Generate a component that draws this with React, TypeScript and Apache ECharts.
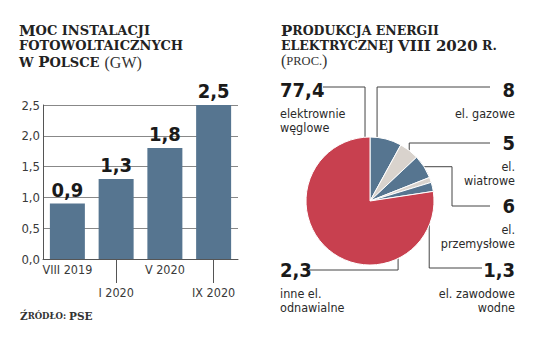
import React, { useEffect, useRef } from "react";
import * as echarts from "echarts";

// ---- data ----
const barCategories = ["VIII 2019", "I 2020", "V 2020", "IX 2020"];
const barValues = [0.9, 1.3, 1.8, 2.5];
const yTicks = { min: 0, max: 2.5, interval: 0.5 };

const pieNames = [
  "el. gazowe",
  "el. wiatrowe",
  "el. przemysłowe",
  "el. zawodowe wodne",
  "inne el. odnawialne",
  "elektrownie węglowe",
];
const pieValues = [8, 5, 6, 1.3, 2.3, 77.4];
const pieLabelLines = [
  ["el. gazowe"],
  ["el.", "wiatrowe"],
  ["el.", "przemysłowe"],
  ["el. zawodowe", "wodne"],
  ["inne el.", "odnawialne"],
  ["elektrownie", "węglowe"],
];

// ---- styles ----
const BLUE = "#567590";
const GRAY = "#d9d3cd";
const RED = "#c8404f";
const pieColors = [BLUE, GRAY, BLUE, GRAY, BLUE, RED];
const COND = "'Liberation Sans Narrow', 'DejaVu Sans Condensed', 'Roboto', sans-serif";
const SERIF = "'DejaVu Serif', serif";
const LIGHT = "'Liberation Serif', serif";

const PIE_C = [370, 201];
const PIE_R = 64;

// label layout (pixel layout constants)
const labelPos = [
  { side: "right", x: 515, top: 82, ly: 87, sx: 490, ex: null, t: 0.22, rf: 1 },
  { side: "right", x: 515, top: 135, ly: 143, sx: 490, ex: null, t: 0.5, rf: 1 },
  { side: "right", x: 515, top: 198, ly: 206, sx: 490, ex: 452, t: 0.5, rf: 1 },
  { side: "right", x: 515, top: 262, ly: 268, sx: 482, ex: null, t: 0.5, rf: 0.98 },
  { side: "left", x: 280, top: 262, ly: 270, sx: 309, ex: null, t: 0.5, rf: 0.45 },
  { side: "left", x: 280, top: 82, ly: 87, sx: 323, ex: null, t: 0.984, rf: 1 },
];

const fmt = (v: number) => String(v).replace(".", ",");

function sliceAngles() {
  const total = pieValues.reduce((a, b) => a + b, 0);
  let start = 90;
  return pieValues.map((v) => {
    const span = (v / total) * 360;
    const s = start;
    start -= span;
    return { start: s, end: s - span };
  });
}

const titleRich = (small: number) => ({
  c: { fontFamily: SERIF, fontWeight: "bold", fontSize: 15, color: "#222", lineHeight: 15 },
  s: { fontFamily: SERIF, fontWeight: "bold", fontSize: small, color: "#222", lineHeight: 15 },
  l: { fontFamily: LIGHT, fontWeight: "normal", fontSize: 16, color: "#333", lineHeight: 15 },
  ls: { fontFamily: LIGHT, fontWeight: "normal", fontSize: 12.5, color: "#333", lineHeight: 15 },
});

export default function App() {
  const ref = useRef<HTMLDivElement>(null);
  useEffect(() => {
    if (!ref.current) return;
    const chart = echarts.init(ref.current, null, { renderer: "svg" });
    const angles = sliceAngles();

    const option: any = {
      animation: false,
      backgroundColor: "#ffffff",
      title: [
        {
          left: 14,
          top: 18,
          text: "{c|M}{s|OC INSTALACJI}\n{s|FOTOWOLTAICZNYCH}\n{s|W }{c|P}{s|OLSCE} {l|(GW)}",
          textStyle: { rich: titleRich(13) },
        },
        {
          left: 276,
          top: 18,
          text: "{c|P}{s|RODUKCJA ENERGII}\n{s|ELEKTRYCZNEJ }{c|VIII 2020}{s| R.}\n{l|(}{ls|PROC.}{l|)}",
          textStyle: { rich: titleRich(12.5) },
        },
        {
          left: 15,
          top: 305,
          text: "{c|Ź}{s|RÓDŁO: }{c|PSE}",
          textStyle: {
            rich: {
              c: { fontFamily: SERIF, fontWeight: "bold", fontSize: 10.5, color: "#333" },
              s: { fontFamily: SERIF, fontWeight: "bold", fontSize: 8.5, color: "#333" },
            },
          },
        },
      ],
      grid: { left: 43, top: 105, width: 195, height: 154, containLabel: false },
      xAxis: {
        type: "category",
        data: barCategories,
        axisLine: { show: true, lineStyle: { color: "#555", width: 1 } },
        axisTick: {
          show: true,
          alignWithLabel: true,
          interval: (i: number) => i % 2 === 1,
          length: 24,
          lineStyle: { color: "#555" },
        },
        axisLabel: {
          interval: 0,
          margin: 3,
          formatter: (v: string, i: number) => (i % 2 === 1 ? "{g|}\n{a|" + v + "}" : "{a|" + v + "}"),
          rich: {
            g: { lineHeight: 23, fontSize: 1 },
            a: { fontFamily: COND, fontSize: 12.5, color: "#3a3a3a", lineHeight: 14 },
          },
        },
      },
      yAxis: {
        type: "value",
        min: yTicks.min,
        max: yTicks.max,
        interval: yTicks.interval,
        axisLine: { show: true, lineStyle: { color: "#555", width: 1 } },
        axisTick: { show: false },
        splitLine: { show: true, lineStyle: { color: "#888", width: 1 } },
        axisLabel: {
          margin: 3,
          fontFamily: COND,
          fontSize: 13,
          color: "#3a3a3a",
          formatter: (v: number) => v.toFixed(1).replace(".", ","),
        },
      },
      series: [
        {
          type: "bar",
          data: barValues,
          barWidth: 35,
          itemStyle: { color: BLUE },
          label: {
            show: true,
            position: "top",
            distance: 4,
            fontFamily: COND,
            fontWeight: "bold",
            fontSize: 20,
            color: "#1a1a1a",
            formatter: (p: any) => fmt(p.value),
          },
        },
        {
          type: "pie",
          center: PIE_C,
          radius: PIE_R,
          startAngle: 90,
          clockwise: true,
          avoidLabelOverlap: false,
          itemStyle: { borderColor: "#fff", borderWidth: 1 },
          data: pieValues.map((v, i) => ({
            value: v,
            name: pieNames[i],
            itemStyle: { color: pieColors[i] },
          })),
          label: {
            show: true,
            position: "outside",
            formatter: (p: any) =>
              "{n|" + fmt(p.value) + "}\n" + pieLabelLines[p.dataIndex].map((s) => "{t|" + s + "}").join("\n"),
            rich: {
              n: { fontFamily: COND, fontWeight: "bold", fontSize: 20, color: "#1a1a1a", lineHeight: 33 },
              t: { fontFamily: COND, fontSize: 12.5, color: "#2a2a2a", lineHeight: 14 },
            },
          },
          labelLine: { show: true, lineStyle: { color: "#444", width: 1 } },
          labelLayout: (p: any) => {
            const i = p.dataIndex;
            const L = labelPos[i];
            const a = angles[i];
            const ang = ((a.start + (a.end - a.start) * L.t) * Math.PI) / 180;
            const ax = PIE_C[0] + PIE_R * L.rf * Math.cos(ang);
            const ay = PIE_C[1] - PIE_R * L.rf * Math.sin(ang);
            const ex = L.ex == null ? ax : L.ex;
            return {
              x: L.x,
              y: L.top - 9,
              align: L.side === "right" ? "right" : "left",
              verticalAlign: "top",
              labelLinePoints: [
                [L.sx, L.ly],
                [ex, L.ly],
                [ex, ay],
                [ax, ay],
              ],
            };
          },
        },
      ],
    };
    chart.setOption(option);
    return () => chart.dispose();
  }, []);
  return (
    <div
      ref={ref}
      style={{ position: "fixed", left: 0, top: 0, width: 536, height: 351, background: "#fff" }}
    />
  );
}
